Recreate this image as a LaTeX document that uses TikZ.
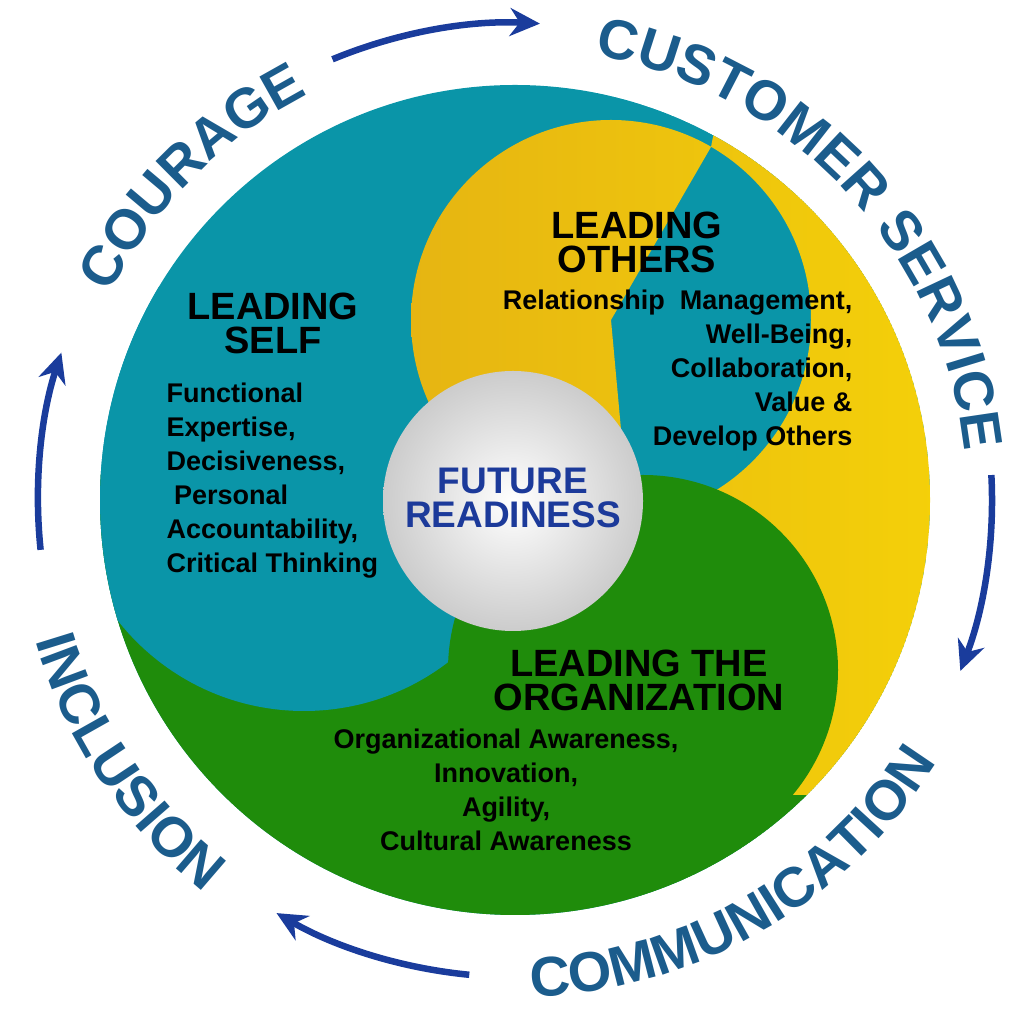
\documentclass[tikz,border=0pt]{standalone}
\usepackage{fontspec}
\setmainfont{Liberation Sans}
\usetikzlibrary{decorations.text,arrows.meta,shadings}
\definecolor{tealc}{HTML}{0A95A8}
\definecolor{yellowc}{HTML}{E6B512}
\definecolor{yellowl}{HTML}{F6D408}
\definecolor{greenc}{HTML}{1F8C0B}
\definecolor{ringc}{HTML}{1B5C8C}
\definecolor{arrowc}{HTML}{1A3C9C}
\definecolor{futc}{HTML}{1C3A9A}
\newcommand\ringf{\fontsize{56}{56}\selectfont\bfseries}
\newcommand\headf{\fontsize{38}{34}\selectfont\bfseries}
\newcommand\futf{\fontsize{37}{34}\selectfont\bfseries}
\newcommand\bodyf{\fontsize{27}{34}\selectfont\bfseries}
\begin{document}
\begin{tikzpicture}[x=1pt,y=1pt,
  ringarrow/.style={draw=arrowc,line width=6.5pt,-{Stealth[length=30pt,width=28pt]}},
  ringtext/.style={decorate,decoration={text along path,text align=center,text format delimiters={|}{|}}},
  head/.style={font=\headf,align=center,text=black},
  body/.style={font=\bodyf,text=black}]
\useasboundingbox (0,0) rectangle (1014,1024);
\coordinate (c) at (515,524);
\begin{scope}
\clip (c) circle[radius=415];
\fill[tealc] (c) circle[radius=415];
\fill[greenc] (0,550) -- (304,550) -- (643,354) -- (643,0) -- (0,0) -- cycle;
\fill[greenc] (643,0) rectangle (1014,229);
\fill[tealc] (304,550) circle[radius=237];
\shade[left color=yellowc,right color=yellowl] (611,704) circle[radius=200]
  (611,704) -- (711,877) -- (740,1024) -- (1014,1024) -- (1014,229) -- (760,229) -- (643,354) -- cycle;
\fill[greenc] (643,354) circle[radius=195];
\end{scope}
% centre ball
\shade[inner color=white,outer color=gray!40] (513,523) circle[radius=130];
\node[font=\futf,text=futc,align=center] (fr) at (513,526) {FUTURE\\READINESS};
% headings and lists
\node[head] (ls) at (273,701) {LEADING\\SELF};
\node[body,anchor=west,align=left] (lsb) at (163,543) {Functional\\Expertise,\\Decisiveness,\\\ Personal\\Accountability,\\Critical Thinking};
\node[head] (lo) at (637,782) {LEADING\\OTHERS};
\node[body,anchor=east,align=right] (lob) at (856,653) {Relationship\ \ Management,\\Well-Being,\\Collaboration,\\Value \&\ \\Develop Others};
\node[head] (lt) at (639,344) {LEADING THE\\ORGANIZATION};
\node[body,align=center] (ltb) at (506,234) {Organizational Awareness,\\Innovation,\\Agility,\\Cultural Awareness};
% ring arrows
\draw[ringarrow] (c) ++(112.5:477) arc[start angle=112.5,end angle=87,radius=477];
\draw[ringarrow] (c) ++(3:477) arc[start angle=3,end angle=-21,radius=477];
\draw[ringarrow] (c) ++(264.5:477) arc[start angle=264.5,end angle=240,radius=477];
\draw[ringarrow] (c) ++(186:477) arc[start angle=186,end angle=162,radius=477];
% ring texts
\path[ringtext,decoration={text={|\ringf\color{ringc}|COURAGE}}] (c) ++(170:455) arc[start angle=170,end angle=100,radius=455];
\path[ringtext,decoration={text={|\ringf\color{ringc}|CUSTOMER SERVICE}}] (c) ++(88:452) arc[start angle=88,end angle=-2,radius=452];
\path[ringtext,decoration={text={|\ringf\color{ringc}|COMMUNICATION}}] (c) ++(-102:497) arc[start angle=-102,end angle=-18,radius=497];
\path[ringtext,decoration={text={|\ringf\color{ringc}|INCLUSION}}] (c) ++(180:500) arc[start angle=180,end angle=248,radius=500];
\end{tikzpicture}
\end{document}
